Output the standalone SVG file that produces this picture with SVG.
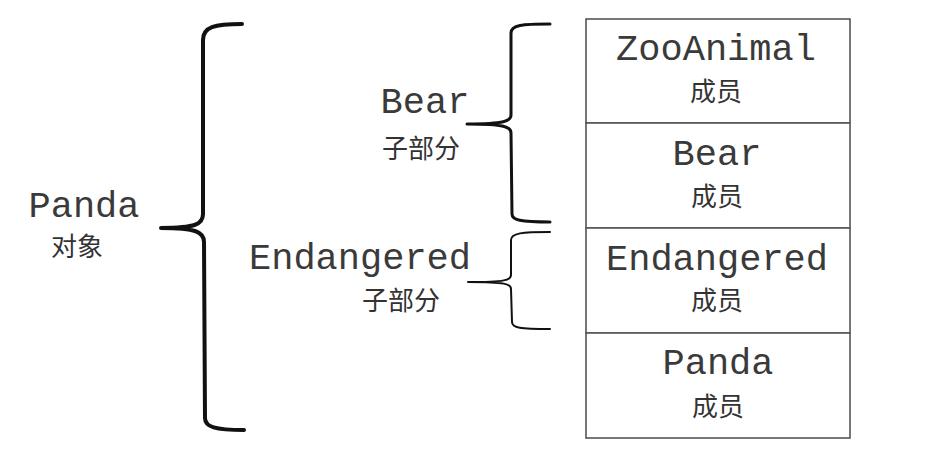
<svg xmlns="http://www.w3.org/2000/svg" width="945" height="461" viewBox="0 0 945 461">
<style>
.mono{font-family:"Liberation Mono","Courier New",monospace;font-size:37px;fill:#3a3a3a;text-anchor:middle}
.cjk{font-family:"Noto Sans CJK SC","Noto Sans CJK JP",sans-serif;font-size:26px;fill:#333;text-anchor:middle}
.brace{fill:none;stroke:#111;stroke-linecap:round;stroke-linejoin:round}
.cell{fill:#fff;stroke:#555;stroke-width:1.6}
</style>
<rect width="945" height="461" fill="#fff"/>
<g id="connectors">
<path class="brace" stroke-width="4" d="M242,24 C214,24 203,27 203,40 L203,214 C203,224 196,228 161,228 C196,228 204,232 204,242 L205,418 C205,427 215,430 244,430"/>
<path class="brace" stroke-width="3" d="M550,24 C522,24 511,25 511,33 L511,115 C511,121 505,124 467,124 C505,124 511,127 511,133 L512,214 C512,220 520,222 550,222"/>
<path class="brace" stroke-width="2" d="M550,232 C522,232 511,233 511,240 L511,275 C511,280 506,282 468,282 C506,282 511,284 511,289 L512,322 C512,328 520,329 550,329"/>
</g>
<g id="panda-object">
<text class="mono" x="84" y="217">Panda</text>
<text class="cjk" x="77" y="256">对象</text>
</g>
<g id="bear-sub">
<text class="mono" x="425" y="113">Bear</text>
<text class="cjk" x="421" y="158">子部分</text>
</g>
<g id="endangered-sub">
<text class="mono" x="360" y="269">Endangered</text>
<text class="cjk" x="401" y="310">子部分</text>
</g>
<g id="zooanimal-members">
<rect class="cell" x="586" y="19" width="264" height="104"/>
<text class="mono" x="716" y="60">ZooAnimal</text>
<text class="cjk" x="716" y="101">成员</text>
</g>
<g id="bear-members">
<rect class="cell" x="586" y="123" width="264" height="105"/>
<text class="mono" x="717" y="165">Bear</text>
<text class="cjk" x="717" y="206">成员</text>
</g>
<g id="endangered-members">
<rect class="cell" x="586" y="228" width="264" height="105"/>
<text class="mono" x="717" y="270">Endangered</text>
<text class="cjk" x="717" y="310">成员</text>
</g>
<g id="panda-members">
<rect class="cell" x="586" y="333" width="264" height="105"/>
<text class="mono" x="718" y="374">Panda</text>
<text class="cjk" x="718" y="416">成员</text>
</g>
</svg>
